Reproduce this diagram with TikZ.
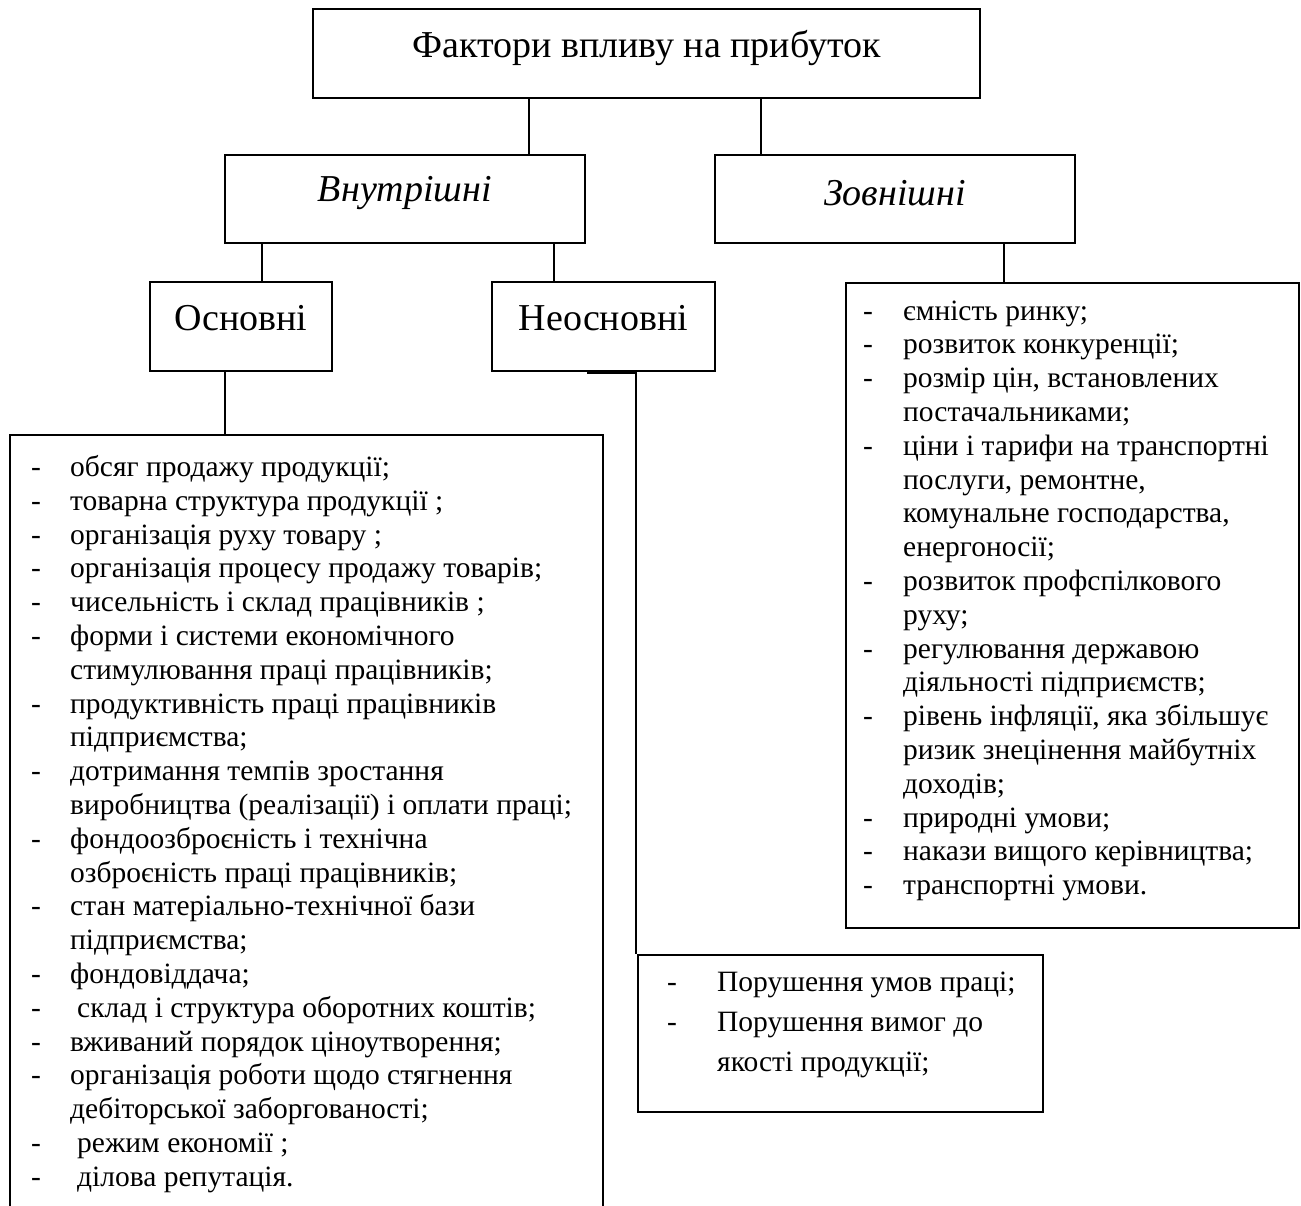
\documentclass[tikz,border=0pt]{standalone}
\usepackage{fontspec}
\setmainfont{Liberation Serif}
\newcommand{\dd}[1][39pt]{\makebox[#1][l]{-}}
\newcommand{\cc}[1][39pt]{\hspace*{#1}}
\begin{document}
\begin{tikzpicture}[x=1pt,y=-1pt,
  box/.style={draw=black,line width=2.3pt,inner sep=0pt},
  frame/.style={draw=black,line width=2.3pt},
  conn/.style={draw=black,line width=1.2pt},
  big/.style={font=\fontsize{38}{44}\selectfont,inner sep=0pt},
  lst/.style={font=\fontsize{29.5}{33.8}\selectfont,inner sep=0pt,anchor=base west},
  lstb/.style={font=\fontsize{29.5}{40}\selectfont,inner sep=0pt,anchor=base west}]
\useasboundingbox (0,0) rectangle (1301,1206);
\fill[white] (0,0) rectangle (1301,1206);

% boxes
\node[box,minimum width=667pt,minimum height=89pt] (top) at (646.5,53.5) {};
\node[big] (topT) at (646.5,48) {Фактори впливу на прибуток};

\node[box,minimum width=360pt,minimum height=88pt] (inner) at (405,199) {};
\node[big] (innerT) at (405,193) {\itshape Внутрішні};

\node[box,minimum width=360pt,minimum height=88pt] (outer) at (895,199) {};
\node[big] (outerT) at (895,193) {\itshape Зовнішні};

\node[box,minimum width=182pt,minimum height=89pt] (basic) at (241,326.5) {};
\node[big] (basicT) at (241,318) {Основні};

\node[box,minimum width=223pt,minimum height=89pt] (nonbasic) at (603.5,326.5) {};
\node[big] (nonbasicT) at (603.5,318) {Неосновні};

\node[box,minimum width=453pt,minimum height=645pt] (right) at (1072.5,605.5) {};
\node[box,minimum width=405pt,minimum height=157pt] (bottom) at (840.5,1033.5) {};

% left list frame (open at the bottom)
\coordinate (LLbl) at (10,1215);
\coordinate (LLtl) at (10,435);
\coordinate (LLtr) at (603,435);
\coordinate (LLbr) at (603,1215);
\draw[frame] (LLbl) -- (LLtl) -- (LLtr) -- (LLbr);

% connectors
\coordinate (c1) at (529,0);
\coordinate (c2) at (761,0);
\coordinate (c3) at (262,0);
\coordinate (c4) at (554,0);
\coordinate (c5) at (1004,0);
\coordinate (c6) at (225,0);
\coordinate (c7) at (636,0);
\coordinate (c8) at (587,0);
\draw[conn] (c1 |- top.south) -- (c1 |- inner.north);
\draw[conn] (c2 |- top.south) -- (c2 |- outer.north);
\draw[conn] (c3 |- inner.south) -- (c3 |- basic.north);
\draw[conn] (c4 |- inner.south) -- (c4 |- nonbasic.north);
\draw[conn] (c5 |- outer.south) -- (c5 |- right.north);
\draw[conn] (c6 |- basic.south) -- (c6 |- LLtl);
\draw[conn] (c7 |- nonbasic.south) -- (c7 |- bottom.north);
% slightly heavier stub on the lower edge of the "Неосновні" box
\draw[line width=3.4pt] ([yshift=-0.6pt]c8 |- nonbasic.south) -- ([yshift=-0.6pt]c7 |- nonbasic.south);

% texts of lists
\node[lst] (leftT) at (31,476.5) {\begin{tabular}[t]{@{}l@{}}
\dd обсяг продажу продукції;\\
\dd товарна структура продукції ;\\
\dd організація руху товару ;\\
\dd організація процесу продажу товарів;\\
\dd чисельність і склад працівників ;\\
\dd форми і системи економічного\\
\cc стимулювання праці працівників;\\
\dd продуктивність праці працівників\\
\cc підприємства;\\
\dd дотримання темпів зростання\\
\cc виробництва (реалізації) і оплати праці;\\
\dd фондоозброєність і технічна\\
\cc озброєність праці працівників;\\
\dd стан матеріально-технічної бази\\
\cc підприємства;\\
\dd фондовіддача;\\
\dd\hspace*{7pt}склад і структура оборотних коштів;\\
\dd вживаний порядок ціноутворення;\\
\dd організація роботи щодо стягнення\\
\cc дебіторської заборгованості;\\
\dd\hspace*{7pt}режим економії ;\\
\dd\hspace*{7pt}ділова репутація.
\end{tabular}};

\node[lst] (rightT) at (863,320) {\begin{tabular}[t]{@{}l@{}}
\dd[40pt]ємність ринку;\\
\dd[40pt]розвиток конкуренції;\\
\dd[40pt]розмір цін, встановлених\\
\cc[40pt]постачальниками;\\
\dd[40pt]ціни і тарифи на транспортні\\
\cc[40pt]послуги, ремонтне,\\
\cc[40pt]комунальне господарства,\\
\cc[40pt]енергоносії;\\
\dd[40pt]розвиток профспілкового\\
\cc[40pt]руху;\\
\dd[40pt]регулювання державою\\
\cc[40pt]діяльності підприємств;\\
\dd[40pt]рівень інфляції, яка збільшує\\
\cc[40pt]ризик знецінення майбутніх\\
\cc[40pt]доходів;\\
\dd[40pt]природні умови;\\
\dd[40pt]накази вищого керівництва;\\
\dd[40pt]транспортні умови.
\end{tabular}};

\node[lstb] (bottomT) at (667,991) {\begin{tabular}[t]{@{}l@{}}
\dd[50pt]Порушення умов праці;\\
\dd[50pt]Порушення вимог до\\
\cc[50pt]якості продукції;
\end{tabular}};
\end{tikzpicture}
\end{document}
